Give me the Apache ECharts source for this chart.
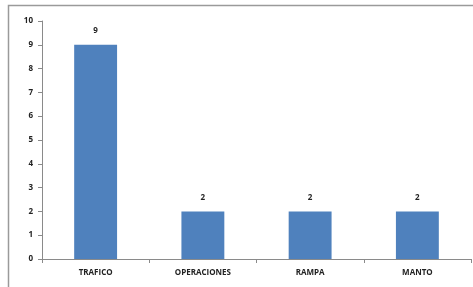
<!DOCTYPE html>
<html>
<head>
<meta charset="utf-8">
<script src="https://cdn.jsdelivr.net/npm/echarts@6/dist/echarts.min.js"></script>
<style>
  html, body { margin: 0; padding: 0; background: #fff; }
  #chart { width: 473px; height: 287px; }
</style>
</head>
<body>
<div id="chart"></div>
<script>
const categories = ['TRAFICO', 'OPERACIONES', 'RAMPA', 'MANTO']
const values = [9, 2, 2, 2]
const yTicks = [0, 10, 1] // min, max, step

const chart = echarts.init(document.getElementById('chart'))
const option = {
  animation: false,
  textStyle: { fontFamily: 'Open Sans, sans-serif' },
  graphic: [
    {
      type: 'rect',
      shape: { x: 8.5, y: 5.5, width: 480, height: 300 },
      style: { fill: 'none', stroke: '#9a9a9a', lineWidth: 1.5 }
    }
  ],
  grid: { left: 42, right: 2, top: 21, bottom: 28 },
  xAxis: {
    type: 'category',
    data: categories,
    axisLine: { lineStyle: { color: '#8a8a8a', width: 1 } },
    axisTick: { show: true, length: 4, lineStyle: { color: '#8a8a8a' } },
    axisLabel: { color: '#222', fontSize: 8, fontWeight: 'bold', margin: 10, letterSpacing: -0.5 }
  },
  yAxis: {
    type: 'value',
    min: yTicks[0],
    max: yTicks[1],
    interval: yTicks[2],
    axisLine: { show: true, lineStyle: { color: '#8a8a8a', width: 1 } },
    axisTick: { show: true, length: 4, lineStyle: { color: '#8a8a8a' } },
    splitLine: { show: false },
    axisLabel: { color: '#222', fontSize: 8, fontWeight: 'bold', margin: 9 }
  },
  series: [
    {
      type: 'bar',
      data: values,
      barWidth: '40%',
      itemStyle: { color: '#4f81bd' },
      label: {
        show: true,
        position: 'top',
        distance: 10,
        color: '#222',
        fontSize: 8,
        fontWeight: 'bold'
      }
    }
  ]
}
chart.setOption(option)
</script>
</body>
</html>
